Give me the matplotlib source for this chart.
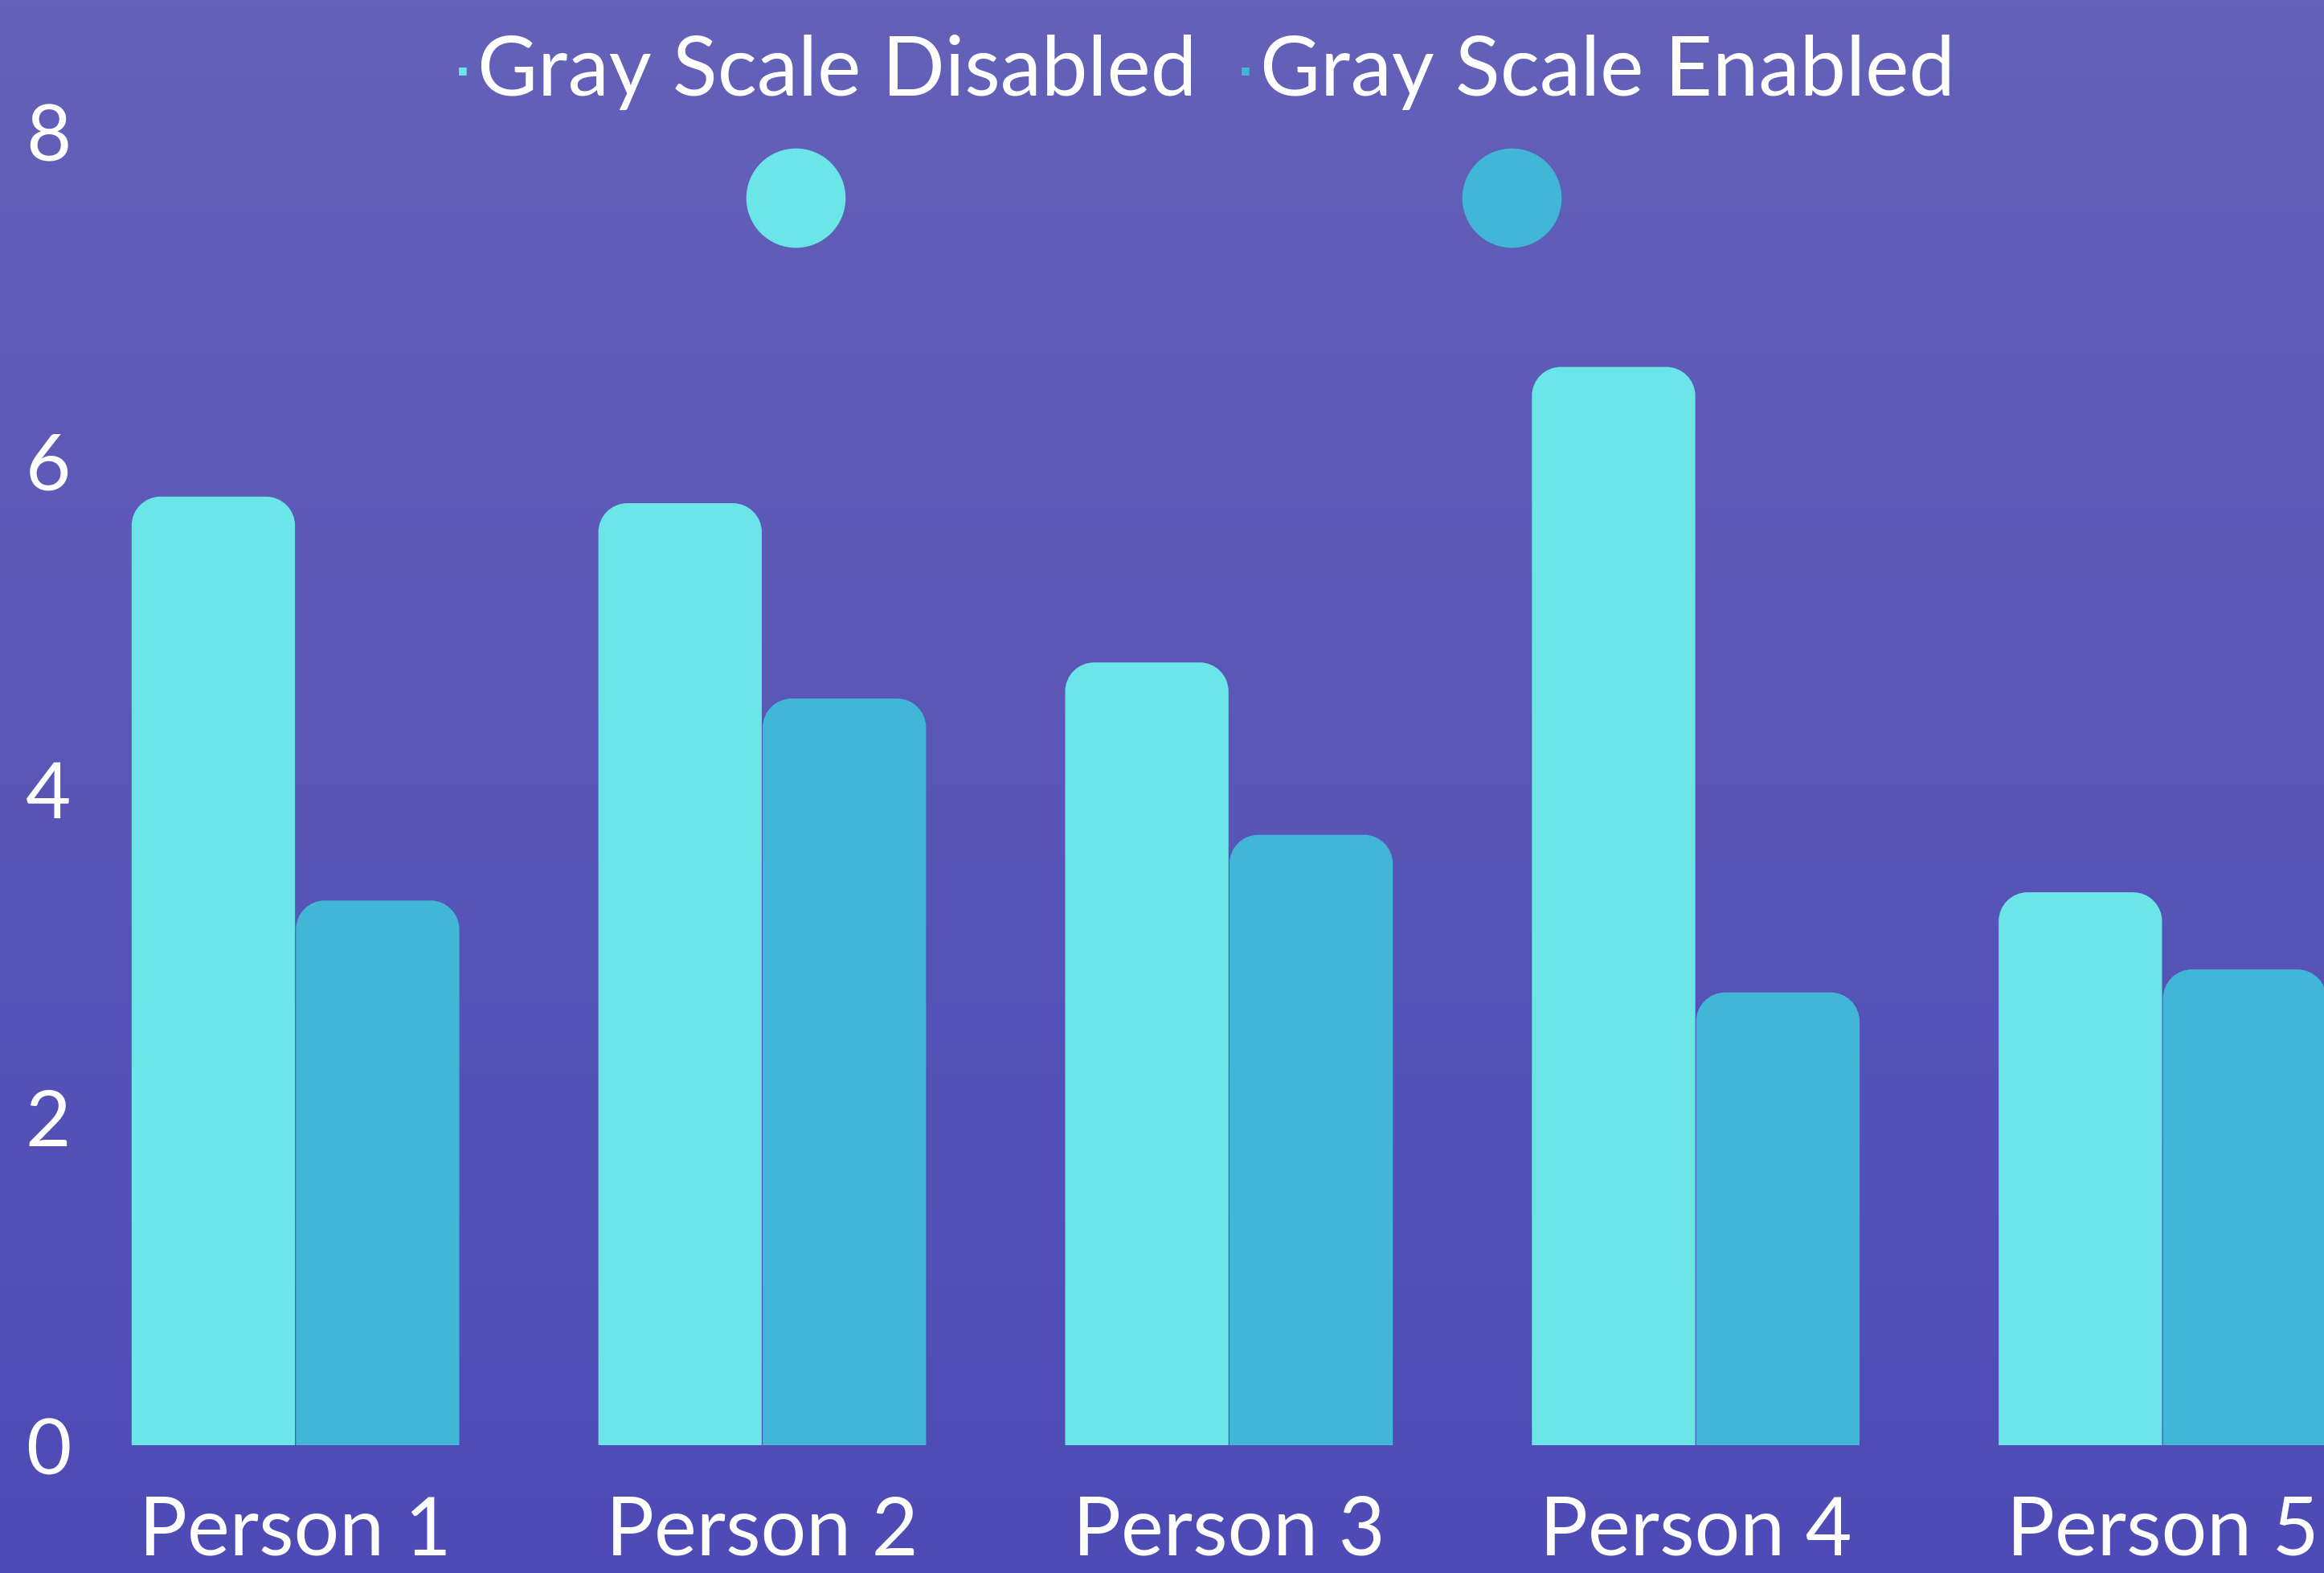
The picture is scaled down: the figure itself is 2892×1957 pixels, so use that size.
import numpy as np
import matplotlib
matplotlib.use("Agg")
import matplotlib.pyplot as plt
from matplotlib.path import Path
from matplotlib.patches import PathPatch

plt.rcParams['font.family'] = ['Lato', 'DejaVu Sans']

# data
people = ["Person 1", "Person 2", "Person 3", "Person 4", "Person 5"]
disabled = [5.78, 5.74, 4.77, 6.57, 3.37]
enabled = [3.32, 4.55, 3.72, 2.76, 2.90]
series_names = ["Gray Scale Disabled", "Gray Scale Enabled"]
colors = ["#6CE5E8", "#41B6D6"]
yticks = [0, 2, 4, 6, 8]

W, H, DPI = 28.92, 19.58, 100
fig = plt.figure(figsize=(W, H), dpi=DPI)

# gradient background
bg = fig.add_axes([0, 0, 1, 1], zorder=-10)
grad = np.linspace(0, 1, 256).reshape(-1, 1)
cmap = matplotlib.colors.LinearSegmentedColormap.from_list("bg", ["#6461B9", "#4E4BB6"])
bg.imshow(grad, aspect="auto", cmap=cmap, extent=[0, 1, 0, 1], origin="upper")
bg.axis("off")

ax_rect = [0.0478, 0.081, 0.9522, 0.919]
ax = fig.add_axes(ax_rect)
ax.patch.set_alpha(0)
xlim = (-0.395, 4.346)
ylim = (0, 8.81)
ax.set_xlim(*xlim)
ax.set_ylim(*ylim)

x = np.arange(len(people))
bw = 0.35
off = 0.176
b1 = ax.bar(x - off, disabled, bw, color=colors[0])
b2 = ax.bar(x + off, enabled, bw, color=colors[1])

# rounded top corners
r_px = 36
px_per_x = W * DPI * ax_rect[2] / (xlim[1] - xlim[0])
px_per_y = H * DPI * ax_rect[3] / (ylim[1] - ylim[0])
rx, ry = r_px / px_per_x, r_px / px_per_y
k = 0.5523
for bars, c in [(b1, colors[0]), (b2, colors[1])]:
    for p in bars:
        x0, w, h = p.get_x(), p.get_width(), p.get_height()
        x1 = x0 + w
        verts = [(x0, 0), (x0, h - ry),
                 (x0, h - ry + k * ry), (x0 + rx - k * rx, h), (x0 + rx, h),
                 (x1 - rx, h),
                 (x1 - rx + k * rx, h), (x1, h - ry + k * ry), (x1, h - ry),
                 (x1, 0), (x0, 0)]
        codes = [Path.MOVETO, Path.LINETO,
                 Path.CURVE4, Path.CURVE4, Path.CURVE4,
                 Path.LINETO,
                 Path.CURVE4, Path.CURVE4, Path.CURVE4,
                 Path.LINETO, Path.CLOSEPOLY]
        p.set_visible(False)
        ax.add_patch(PathPatch(Path(verts, codes), facecolor=c, edgecolor="none"))

for s in ax.spines.values():
    s.set_visible(False)
ax.set_xticks(x)
ax.set_xticklabels(people)
ax.set_yticks(yticks)
ax.tick_params(axis="both", length=0, colors="white", labelsize=70)
ax.tick_params(axis="x", labelsize=72)
ax.tick_params(axis="y", pad=36)
ax.tick_params(axis="x", pad=44)

# legend
leg_y = 1 - 47 / 1062
for i, (name, c) in enumerate(zip(series_names, colors)):
    sx = [312, 840][i] / 1568
    fig.text(sx, leg_y, "\u25A0", color=c, fontsize=9, ha="center", va="center")
    fig.text(sx + 10 / 1568, leg_y - 2 / 1062, name, color="white", fontsize=74,
             ha="left", va="center")
    cx = [537, 1020][i] / 1568
    fig.add_artist(plt.Line2D([cx], [1 - 134 / 1062], marker="o", markersize=88,
                              color=c, linestyle="none", transform=fig.transFigure))

fig.savefig("out.png", dpi=DPI)
